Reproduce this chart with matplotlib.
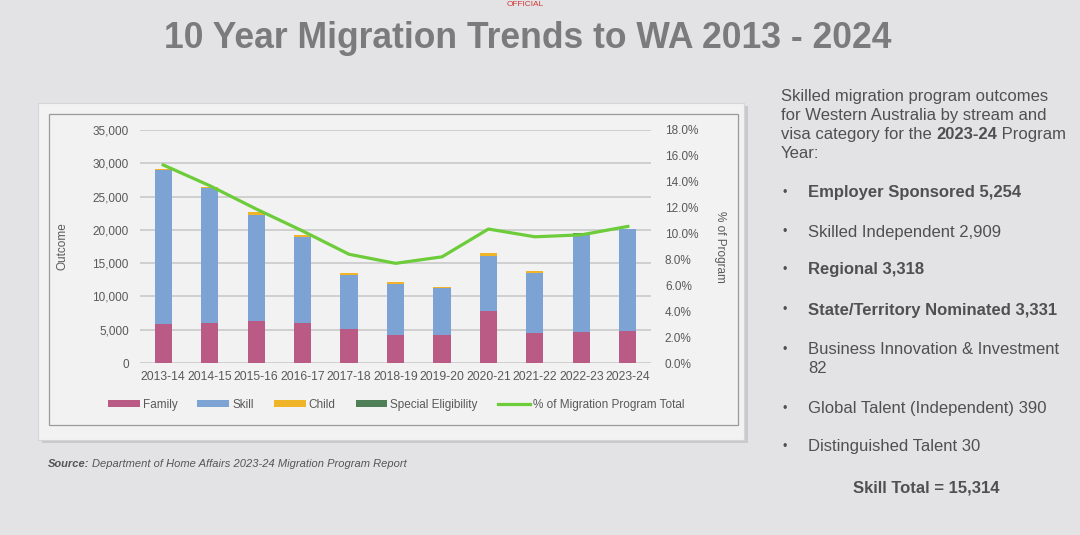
import matplotlib
matplotlib.use("Agg")
import matplotlib.pyplot as plt
from matplotlib.patches import Rectangle
from matplotlib.ticker import FuncFormatter, MultipleLocator
import numpy as np

plt.rcParams['font.family'] = ['Liberation Sans', 'DejaVu Sans']

# ---------------- data ----------------
years = ['2013-14', '2014-15', '2015-16', '2016-17', '2017-18', '2018-19',
         '2019-20', '2020-21', '2021-22', '2022-23', '2023-24']
family = [5870, 6020, 6320, 6020, 5050, 4260, 4210, 7800, 4510, 4710, 4750]
skill = [23120, 20310, 15950, 12840, 8170, 7620, 7010, 8300, 9010, 14680, 15314]
child = [100, 100, 400, 300, 330, 350, 250, 410, 350, 0, 0]
special = [0, 0, 0, 0, 0, 0, 0, 0, 0, 150, 0]
pct_total = [15.3, 13.7, 11.9, 10.2, 8.4, 7.7, 8.2, 10.35, 9.75, 9.9, 10.55]

series_names = ['Family', 'Skill', 'Child', 'Special Eligibility']
line_name = '% of Migration Program Total'

title = '10 Year Migration Trends to WA 2013 - 2024'
intro_lines = ['Skilled migration program outcomes',
               'for Western Australia by stream and']
bullets = [('Employer Sponsored 5,254', True),
           ('Skilled Independent 2,909', False),
           ('Regional 3,318', True),
           ('State/Territory Nominated 3,331', True),
           ('Business Innovation & Investment\n82', False),
           ('Global Talent (Independent) 390', False),
           ('Distinguished Talent 30', False)]
skill_total = 'Skill Total = 15,314'

# ---------------- figure ----------------
W, H = 1080, 535
fig = plt.figure(figsize=(W / 100, H / 100), dpi=100)
fig.patch.set_facecolor('#e3e3e5')

def fx(x):
    return x / W

def fy(y):
    return 1 - y / H

# chart panel with shadow
fig.patches.append(Rectangle((fx(42), fy(443)), fx(706), (443 - 106) / H,
                             transform=fig.transFigure, facecolor='#c9c9cb',
                             edgecolor='none', zorder=0))
fig.patches.append(Rectangle((fx(38), fy(440)), fx(706), (440 - 103) / H,
                             transform=fig.transFigure, facecolor='#f2f2f2',
                             edgecolor='#d5d5d5', lw=0.8, zorder=0.5))
fig.patches.append(Rectangle((fx(49), fy(425)), fx(689), (425 - 114) / H,
                             transform=fig.transFigure, facecolor='none',
                             edgecolor='#9a9a9a', lw=0.9, zorder=0.6))

# main axes
ax = fig.add_axes([fx(140), fy(363), fx(651 - 140), (363 - 130) / H])
ax.set_zorder(2)
ax.set_facecolor('none')
x = np.arange(len(years))
bw = 0.37
fam_c, skill_c, child_c, spec_c = '#b95b84', '#7da2d4', '#f0b429', '#4f7f57'
b1 = ax.bar(x, family, bw, color=fam_c, zorder=3, label=series_names[0])
bottom = np.array(family, dtype=float)
b2 = ax.bar(x, skill, bw, bottom=bottom, color=skill_c, zorder=3, label=series_names[1])
bottom += np.array(skill)
b3 = ax.bar(x, child, bw, bottom=bottom, color=child_c, zorder=3, label=series_names[2])
bottom += np.array(child)
b4 = ax.bar(x, special, bw, bottom=bottom, color=spec_c, lw=0, zorder=3,
            label=series_names[3])

ax.set_ylim(0, 35000)
ax.set_xlim(-0.5, len(years) - 0.5)
ax.yaxis.set_major_locator(MultipleLocator(5000))
ax.yaxis.set_major_formatter(FuncFormatter(lambda v, p: f'{int(v):,}'))
ax.grid(axis='y', color='#c6c6c6', lw=1.1, zorder=0)
ax.set_axisbelow(True)
for s in ax.spines.values():
    s.set_visible(False)
ax.tick_params(axis='both', length=0, colors='#595959', labelsize=8.5)
ax.tick_params(axis='y', pad=8)
ax.tick_params(axis='x', pad=6, labelsize=8.7)
ax.set_xticks(x)
ax.set_xticklabels(years)
ax.set_ylabel('Outcome', color='#595959', fontsize=8.5)
ax.yaxis.set_label_coords((68 - 140) / 511, 0.5)

ax2 = ax.twinx()
ax2.set_zorder(3)
ax2.patch.set_visible(False)
ln, = ax2.plot(x, [p / 100 for p in pct_total], color='#6dcc3a', lw=2.3,
               zorder=5, label=line_name)
ax2.set_ylim(0, 0.18)
ax2.yaxis.set_major_locator(MultipleLocator(0.02))
ax2.yaxis.set_major_formatter(FuncFormatter(lambda v, p: f'{v * 100:.1f}%'))
for s in ax2.spines.values():
    s.set_visible(False)
ax2.tick_params(axis='y', length=0, colors='#595959', labelsize=8.5, pad=10)
ax2.set_ylabel('% of Program', color='#595959', fontsize=8.5, rotation=270,
               va='center')
ax2.yaxis.set_label_coords(1 + (720 - 651) / 511, 0.5)

handles = [b1, b2, b3, b4, ln]
labels = series_names + [line_name]
leg = fig.legend(handles, labels, loc='center', bbox_to_anchor=(fx(396), fy(405)),
                 ncol=5, frameon=False, fontsize=8.5, handlelength=2.7,
                 handleheight=0.5, handletextpad=0.25, columnspacing=1.7,
                 labelcolor='#595959')
leg.set_zorder(4)

# title and marking
fig.text(fx(528), fy(38), title, ha='center', va='center', fontsize=25.6,
         fontweight='bold', color='#7b7b7d')
fig.text(fx(525), fy(4), 'OFFICIAL', ha='center', va='center', fontsize=6,
         color='#d23a3a')

# source
renderer = fig.canvas.get_renderer()
t = fig.text(fx(48), fy(464), 'Source:', ha='left', va='center', fontsize=8,
             fontweight='bold', style='italic', color='#555555')
bb = t.get_window_extent(renderer)
fig.text(bb.x1 / W + fx(3), fy(464), 'Department of Home Affairs 2023-24 Migration Program Report',
         ha='left', va='center', fontsize=8, style='italic', color='#555555')

# right text panel
tc = '#505050'
fs = 12
for i, line in enumerate(intro_lines):
    fig.text(fx(781), fy(97 + 19 * i), line, ha='left', va='center', fontsize=fs, color=tc)
y3 = fy(135)
t1 = fig.text(fx(781), y3, 'visa category for the ', ha='left', va='center', fontsize=fs, color=tc)
e1 = t1.get_window_extent(renderer)
t2 = fig.text(e1.x1 / W, y3, '2023-24', ha='left', va='center', fontsize=fs,
              fontweight='bold', color=tc)
e2 = t2.get_window_extent(renderer)
fig.text(e2.x1 / W, y3, ' Program', ha='left', va='center', fontsize=fs, color=tc)
fig.text(fx(781), fy(154), 'Year:', ha='left', va='center', fontsize=fs, color=tc)

bullet_y = [193, 232, 270, 310, 350, 409, 447]
bfs = 12
for (txt, bold), yy in zip(bullets, bullet_y):
    fig.text(fx(785), fy(yy), '•', ha='center', va='center', fontsize=9, color=tc)
    wt = 'bold' if bold else 'normal'
    if '\n' in txt:
        fig.text(fx(808), fy(yy - 8), txt, ha='left', va='top', fontsize=bfs,
                 fontweight=wt, color=tc, linespacing=1.3)
    else:
        fig.text(fx(808), fy(yy), txt, ha='left', va='center', fontsize=bfs,
                 fontweight=wt, color=tc)

fig.text(fx(926), fy(488), skill_total, ha='center', va='center', fontsize=12,
         fontweight='bold', color=tc)

fig.savefig('out.png', dpi=100, facecolor=fig.get_facecolor())
